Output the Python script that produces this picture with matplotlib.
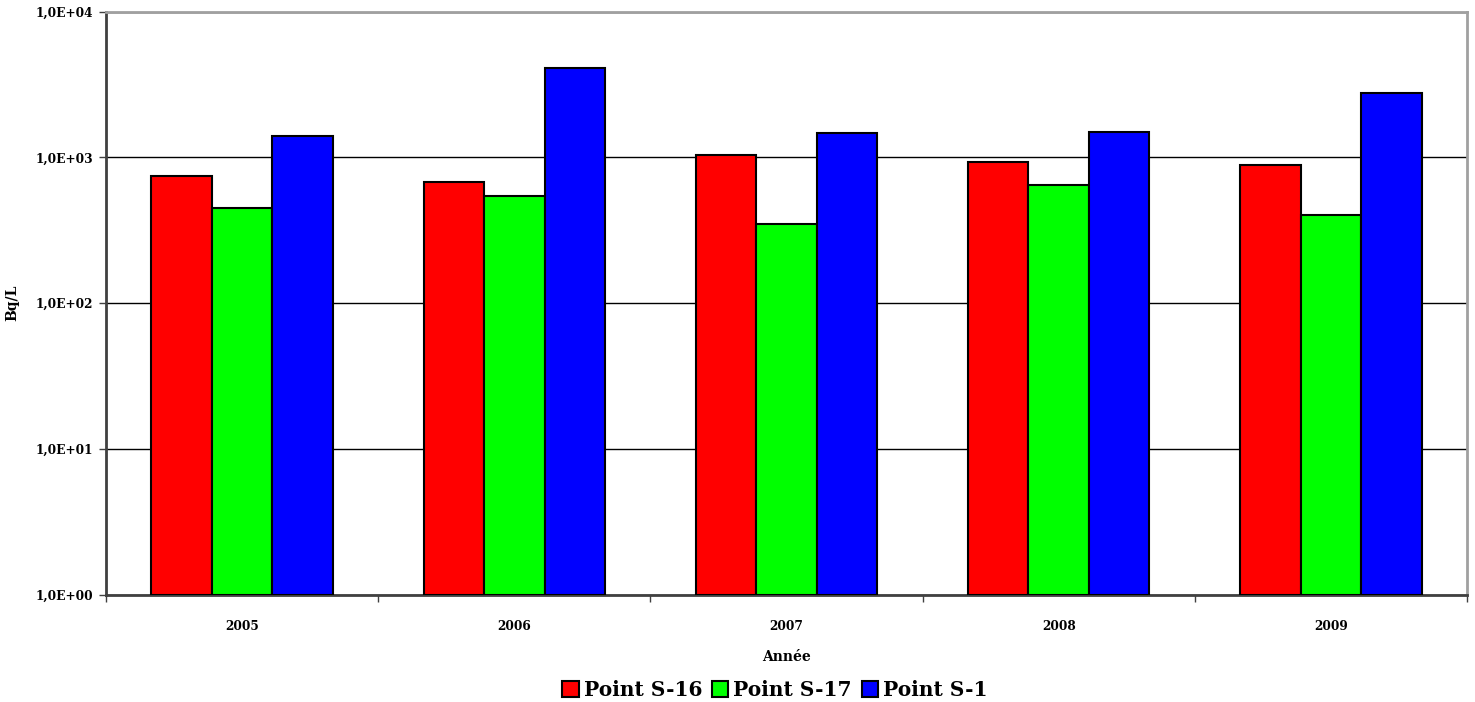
import matplotlib
matplotlib.use("Agg")
import matplotlib.pyplot as plt
import numpy as np
from matplotlib.ticker import FixedLocator, NullLocator

years = ["2005", "2006", "2007", "2008", "2009"]
series_names = ["Point S-16", "Point S-17", "Point S-1"]
point_s16 = [745, 678, 1043, 933, 891]
point_s17 = [449, 543, 348, 648, 404]
point_s1 = [1400, 4090, 1472, 1490, 2741]
y_tick_values = [1, 10, 100, 1000, 10000]
y_tick_labels = ["1,0E+00", "1,0E+01", "1,0E+02", "1,0E+03", "1,0E+04"]

colors = ["#ff0000", "#00ff00", "#0000ff"]
font = ["DejaVu Serif"]

fig = plt.figure(figsize=(14.75, 7.02), dpi=100)
ax = fig.add_axes([106 / 1475, 1 - 595 / 702, (1467 - 106) / 1475, (595 - 11.5) / 702])

x = np.arange(len(years))
width = 0.222
for i, (vals, name, c) in enumerate(zip([point_s16, point_s17, point_s1], series_names, colors)):
    ax.bar(x + (i - 1) * width, vals, width=width, bottom=1, color=c,
           edgecolor="black", linewidth=1.5, label=name, zorder=3)

ax.set_yscale("log")
ax.set_ylim(1, 10000)
ax.set_xlim(-0.5, len(years) - 0.5)
ax.yaxis.set_major_locator(FixedLocator(y_tick_values))
ax.yaxis.set_minor_locator(NullLocator())
ax.set_yticklabels(y_tick_labels, fontfamily=font, fontweight="bold", fontsize=8.7)
ax.grid(axis="y", which="major", color="black", linewidth=1.0, zorder=0)

ax.set_xticks(x)
ax.set_xticklabels(years, fontfamily=font, fontweight="bold", fontsize=8.7)
ax.tick_params(axis="x", which="major", length=0, pad=18)
ax.set_xticks(np.arange(-0.5, len(years)), minor=True)
ax.tick_params(axis="x", which="minor", length=5, width=1, color="#404040", direction="out")
ax.tick_params(axis="y", which="major", length=5, width=1, color="#404040", direction="out", pad=4)

for side in ["left", "bottom"]:
    ax.spines[side].set_color("#404040")
    ax.spines[side].set_linewidth(2)
for side in ["top", "right"]:
    ax.spines[side].set_color("#a0a0a0")
    ax.spines[side].set_linewidth(2)

ax.set_xlabel("Année", fontfamily=font, fontweight="bold", fontsize=10, labelpad=12)
ax.set_ylabel("Bq/L", fontfamily=font, fontweight="bold", fontsize=10, labelpad=12)

leg = fig.legend(loc="center", bbox_to_anchor=(775 / 1475, 1 - 690 / 702), ncol=3,
                 frameon=False, prop={"family": font, "weight": "bold", "size": 14.5},
                 handlelength=0.8, handleheight=0.8, handletextpad=0.25, columnspacing=0.5)

fig.savefig("out.png", dpi=100)
